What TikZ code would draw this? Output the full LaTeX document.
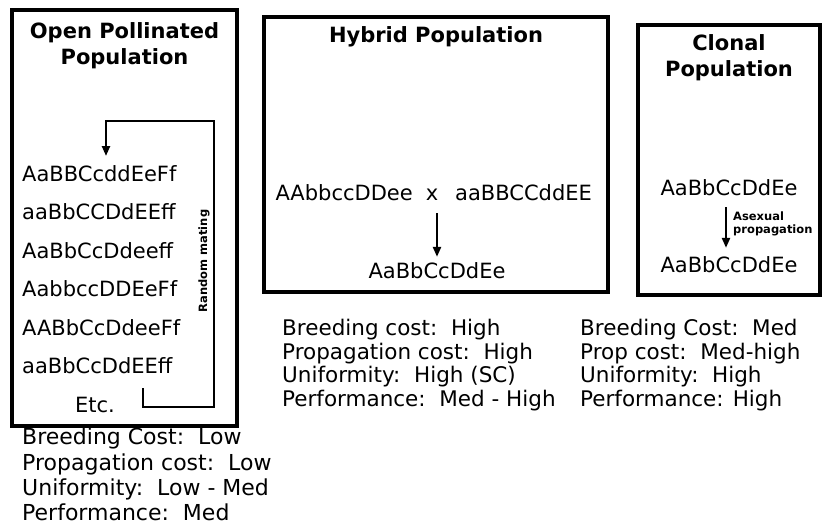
\documentclass[tikz,border=0pt]{standalone}
\usepackage{fontspec}
\setmainfont{DejaVu Sans}
\usetikzlibrary{arrows.meta}
\usetikzlibrary{positioning}

\tikzset{
  panel/.style={draw, line width=3.5pt},
  heading/.style={font=\fontsize{21}{26}\selectfont\bfseries, align=center, inner sep=0pt},
  geno/.style={font=\fontsize{21}{25}\selectfont, inner sep=0pt},
  stats/.style={font=\fontsize{21.5}{23.6}\selectfont, align=left, inner sep=0pt, anchor=north west},
  small note/.style={font=\fontsize{11.5}{13}\selectfont\bfseries, inner sep=0pt},
  flow/.style={line width=2.3pt, -{Triangle[length=10pt,width=8pt]}},
}

\begin{document}
\begin{tikzpicture}[x=1pt,y=-1pt]
\useasboundingbox (0,0) rectangle (823,527);

% open pollinated
\draw[panel] (12,10) rectangle (237,426);
\node[heading, anchor=north] (optitle) at (124.5,22) {Open Pollinated\\Population};
\foreach \g [count=\i] in {AaBBCcddEeFf, aaBbCCDdEEff, AaBbCcDdeeff, AabbccDDEeFf, AABbCcDdeeFf, aaBbCcDdEEff}
  \node[geno, anchor=base west] (row\i) at (22,{181+38.5*(\i-1)}) {\g};
\node[geno, anchor=base] (etc) at (95,412) {Etc.};
\coordinate (mateout) at (143,388);
\coordinate (matein) at (106,156);
\draw[flow] (mateout) -- (143,407) -- (214,407) -- (214,121) -- (106,121) -- (matein);
\node[small note, rotate=90] (mating) at (204,261) {Random mating};
\node[stats, font=\fontsize{22}{25.3}\selectfont] (opstats) at (22,428)
  {Breeding Cost:~~Low\\Propagation cost:~~Low\\Uniformity:~~Low - Med\\Performance:~~Med};

% hybrid
\draw[panel] (264,17) rectangle (608,292);
\node[heading, anchor=base] (hytitle) at (436,43) {Hybrid Population};
\node[geno, anchor=base] (cross) at (432,200) {x};
\node[geno, anchor=base east] (mother) at (413,200) {AAbbccDDee};
\node[geno, anchor=base west] (father) at (455,200) {aaBBCCddEE};
\node[geno, anchor=base] (hychild) at (437,278) {AaBbCcDdEe};
\draw[flow, shorten <=13pt, shorten >=5pt] (cross.south -| hychild.north) -- (hychild.north);
\node[stats] (hystats) at (282,319)
  {Breeding cost:~~High\\Propagation cost:~~High\\Uniformity:~~High (SC)\\Performance:~~Med - High};

% clonal
\draw[panel] (638,25) rectangle (820,295);
\node[heading, anchor=north] (cltitle) at (729,34) {Clonal\\Population};
\node[geno, anchor=base] (parent) at (729,195) {AaBbCcDdEe};
\node[geno, anchor=base] (clone) at (729,272) {AaBbCcDdEe};
\draw[flow, shorten <=12pt, shorten >=8pt] ([xshift=-3pt]parent.south) -- ([xshift=-3pt]clone.north);
\node[small note, anchor=base west, align=left] (asexual) at (733,233) {Asexual\\propagation};
\node[stats] (clstats) at (580,319)
  {Breeding Cost:~~Med\\Prop cost:~~Med-high\\Uniformity:~~High\\Performance: High};
\end{tikzpicture}
\end{document}
